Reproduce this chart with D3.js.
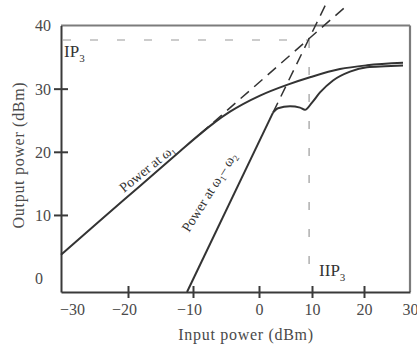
<!DOCTYPE html>
<html>
<head>
<meta charset="utf-8">
<script src="https://cdn.jsdelivr.net/npm/d3@7"></script>
<style>
  body { margin: 0; background: #fff; }
</style>
</head>
<body>
<div id="chart"></div>
<script>
// tick values
const xTicks = [-30, -20, -10, 0, 10, 20, 30];
const yTicks = [0, 10, 20, 30, 40];

// power at w1 (fundamental), dBm in -> dBm out
const fundIn  = [-30, -24.2, -18.15, -12.0, -8.94, -6.67, -4.39, 0.19, 5.28, 9.62, 15.38, 20.65, 28.48];
const fundOut = [3.7, 9.1, 14.6, 20.1, 22.8, 24.7, 26.35, 28.9, 30.6, 31.8, 33.1, 33.7, 34.1];

// small-signal extrapolation of the fundamental
const fundLineIn  = [-8.94, 16.35];
const fundLineOut = [22.8, 42.9];

// power at w1 - w2 (third order product): straight rise, then compression
const imRiseIn  = [-10.92, 2.64];
const imRiseOut = [-2.2, 26.2];
const imTopIn  = [2.64, 3.58, 5.85, 7.74, 8.68, 10.0, 11.54, 14.04, 17.31, 20.65, 24.57, 28.48];
const imTopOut = [26.2, 26.9, 27.2, 27.0, 26.65, 27.8, 29.4, 31.3, 32.7, 33.4, 33.55, 33.65];

// extrapolation of the third order line
const imLineIn  = [2.64, 12.62];
const imLineOut = [26.2, 43.3];

// intercept point
const iip3 = 9.45;
const ip3 = 37.7;

const width = 417, height = 345;
const ink = '#333';

const svg = d3.select('#chart')
  .append('svg')
  .attr('width', width)
  .attr('height', height)
  .style('font-family', '"Liberation Serif", "DejaVu Serif", serif');

// the source figure has uneven spacing between the x ticks
const x = d3.scaleLinear()
  .domain(xTicks)
  .range([61, 128, 193, 259, 312, 364, 410]);

const y = d3.scaleLinear()
  .domain([-2.2, 40])
  .range([292, 25.5]);

// top and right frame
svg.append('line')
  .attr('x1', x(-30)).attr('x2', x(30))
  .attr('y1', y(40)).attr('y2', y(40))
  .attr('stroke', '#7c7c7c').attr('stroke-width', 2.2);
svg.append('line')
  .attr('x1', x(30)).attr('x2', x(30))
  .attr('y1', y(40)).attr('y2', y(-2.2))
  .attr('stroke', '#7c7c7c').attr('stroke-width', 2.2);

// y axis
const yAxis = svg.append('g')
  .attr('transform', `translate(${x(-30)},0)`)
  .call(d3.axisLeft(y).tickValues(yTicks).tickSizeOuter(0));
yAxis.select('.domain').attr('stroke', '#3a3a3a').attr('stroke-width', 2);
yAxis.selectAll('.tick line')
  .attr('x1', -7).attr('x2', 7)
  .attr('stroke', '#3a3a3a').attr('stroke-width', 2)
  .attr('display', d => (d === 0 || d === 40) ? 'none' : null);
yAxis.selectAll('.tick text')
  .attr('x', d => d === 0 ? -18 : -10)
  .attr('dy', '0.34em')
  .attr('font-size', 16)
  .attr('fill', '#4a4a4a');

// x axis
const xAxis = svg.append('g')
  .attr('transform', `translate(0,${y(-2.2)})`)
  .call(d3.axisBottom(x).tickValues(xTicks).tickSizeOuter(0));
xAxis.select('.domain').attr('stroke', '#3a3a3a').attr('stroke-width', 2);
xAxis.selectAll('.tick line')
  .attr('y1', -6).attr('y2', 6)
  .attr('stroke', '#3a3a3a').attr('stroke-width', 2)
  .attr('display', d => (d === -30 || d === 30) ? 'none' : null);
xAxis.selectAll('.tick text')
  .attr('y', 23)
  .attr('dy', 0)
  .attr('dx', d => d === -30 ? 11 : (d < 0 ? -4 : 0))
  .attr('font-size', 16)
  .attr('fill', '#4a4a4a');
svg.selectAll('g').attr('font-family', null);

// axis titles
svg.append('text')
  .attr('transform', 'translate(24,155) rotate(-90)')
  .attr('text-anchor', 'middle')
  .attr('font-size', 16)
  .attr('letter-spacing', 0.7)
  .attr('fill', '#4a4a4a')
  .text('Output power (dBm)');
svg.append('text')
  .attr('x', 246).attr('y', 340)
  .attr('text-anchor', 'middle')
  .attr('font-size', 16)
  .attr('letter-spacing', 0.7)
  .attr('fill', '#4a4a4a')
  .text('Input power (dBm)');

// IP3 guides
svg.append('line')
  .attr('x1', x(-30)).attr('x2', x(iip3))
  .attr('y1', y(ip3)).attr('y2', y(ip3))
  .attr('stroke', '#9a9a9a').attr('stroke-width', 1.2)
  .attr('stroke-dasharray', '8,19')
  .attr('stroke-dashoffset', -2);
svg.append('line')
  .attr('x1', x(iip3)).attr('x2', x(iip3))
  .attr('y1', y(ip3)).attr('y2', y(2))
  .attr('stroke', '#9a9a9a').attr('stroke-width', 1.2)
  .attr('stroke-dasharray', '8,19');

const line = d3.line()
  .x(d => x(d[0]))
  .y(d => y(d[1]));
const curve = d3.line()
  .x(d => x(d[0]))
  .y(d => y(d[1]))
  .curve(d3.curveMonotoneX);

// dashed extrapolations
svg.append('path')
  .datum(d3.zip(fundLineIn, fundLineOut))
  .attr('d', line)
  .attr('fill', 'none').attr('stroke', ink).attr('stroke-width', 1.5)
  .attr('stroke-dasharray', '11,7');
svg.append('path')
  .datum(d3.zip(imLineIn, imLineOut))
  .attr('d', line)
  .attr('fill', 'none').attr('stroke', ink).attr('stroke-width', 1.5)
  .attr('stroke-dasharray', '11,7');

// measured curves
svg.append('path')
  .datum(d3.zip(fundIn, fundOut))
  .attr('d', curve)
  .attr('fill', 'none').attr('stroke', ink).attr('stroke-width', 2);
svg.append('path')
  .datum(d3.zip(imRiseIn, imRiseOut))
  .attr('d', line)
  .attr('fill', 'none').attr('stroke', ink).attr('stroke-width', 2);
svg.append('path')
  .datum(d3.zip(imTopIn, imTopOut))
  .attr('d', curve)
  .attr('fill', 'none').attr('stroke', ink).attr('stroke-width', 2)
  .attr('stroke-linejoin', 'round');

// IP3 / IIP3 labels
const ipLabel = svg.append('text')
  .attr('x', x(-30) + 3).attr('y', y(ip3) + 17)
  .attr('font-size', 17).attr('fill', '#333');
ipLabel.append('tspan').text('IP');
ipLabel.append('tspan').attr('font-size', 11).attr('dy', 5).text('3');

const iipLabel = svg.append('text')
  .attr('x', x(iip3) + 10).attr('y', y(0) - 2)
  .attr('font-size', 17).attr('fill', '#333');
iipLabel.append('tspan').text('IIP');
iipLabel.append('tspan').attr('font-size', 11).attr('dy', 5).text('3');

// curve labels
function curveLabel(cx, cy, angle, sub) {
  const t = svg.append('text')
    .attr('transform', `translate(${x(cx)},${y(cy)}) rotate(${angle})`)
    .attr('text-anchor', 'middle')
    .attr('dy', '0.35em')
    .attr('font-size', 14)
    .attr('fill', '#333');
  t.append('tspan').text('Power at \u03c9');
  t.append('tspan').attr('font-size', 9).attr('dy', 3).text('1');
  if (sub) {
    t.append('tspan').attr('dy', -3).text('\u2013 \u03c9');
    t.append('tspan').attr('font-size', 9).attr('dy', 3).text('2');
  }
}
curveLabel(-17.1, 17.4, -39, false);
curveLabel(-7.6, 13.65, -58, true);
</script>
</body>
</html>
